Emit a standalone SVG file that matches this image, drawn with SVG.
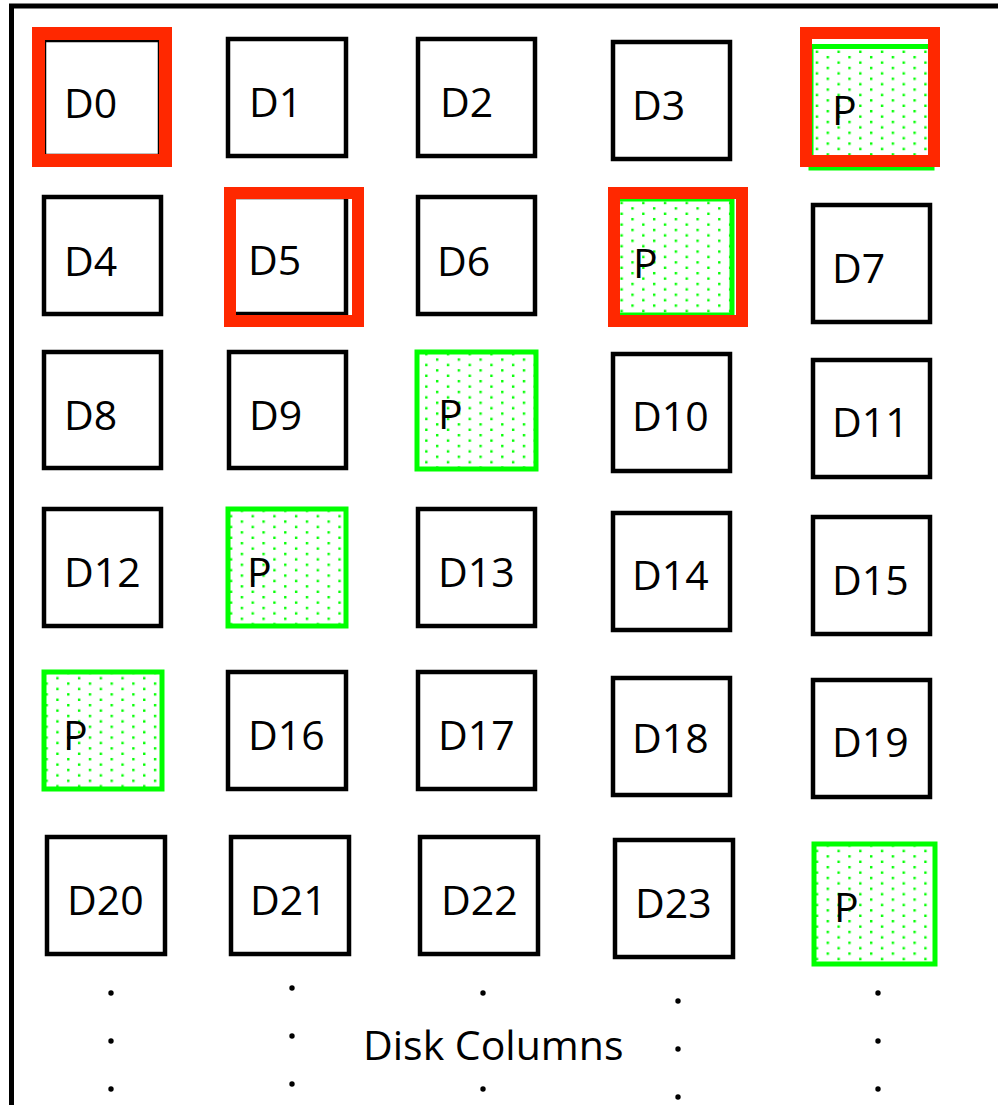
<svg xmlns="http://www.w3.org/2000/svg" width="998" height="1105" viewBox="0 0 998 1105">
<style>
.box{fill:#fff;stroke:#000;stroke-width:4.5}
.par{fill:url(#dots);stroke:#00ff00;stroke-width:5}
.hl{fill:none;stroke:#ff2800;stroke-width:12}
.lbl{font-family:"Open Sans","Liberation Sans",sans-serif;font-size:41px;fill:#000}
.dot{fill:#000}
</style>
<defs>
<pattern id="dots" patternUnits="userSpaceOnUse" width="21.7" height="10.8">
<rect width="21.7" height="10.8" fill="#fff"/>
<rect x="2" y="2" width="2.4" height="2.4" fill="#00ff00"/>
<rect x="12.85" y="7.4" width="2.4" height="2.4" fill="#00ff00"/>
</pattern>
</defs>
<rect width="998" height="1105" fill="#fff"/>
<g id="frame">
<line x1="9" y1="6" x2="998" y2="6" stroke="#000" stroke-width="5"/>
<line x1="11.5" y1="4" x2="11.5" y2="1105" stroke="#000" stroke-width="5"/>
</g>
<g id="connectors"></g>
<!-- Row 1 -->
<g id="D0"><rect class="box" x="44" y="40" width="116" height="116"/><rect class="hl" x="38.5" y="33.5" width="127" height="127" style="stroke-width:13"/><text class="lbl" x="64" y="118">D0</text></g>
<g id="D1"><rect class="box" x="228" y="39" width="118" height="117"/><text class="lbl" x="249" y="117">D1</text></g>
<g id="D2"><rect class="box" x="418" y="39" width="117" height="117"/><text class="lbl" x="440" y="117">D2</text></g>
<g id="D3"><rect class="box" x="613" y="42" width="117" height="117"/><text class="lbl" x="632" y="120">D3</text></g>
<g id="P0"><rect class="par" x="811" y="46.5" width="121" height="121.5"/><rect class="hl" x="806" y="33" width="128" height="128"/><text class="lbl" x="832" y="125">P</text></g>
<!-- Row 2 -->
<g id="D4"><rect class="box" x="44" y="197" width="117" height="117"/><text class="lbl" x="64" y="276">D4</text></g>
<g id="D5"><rect class="box" x="228" y="197" width="118" height="117"/><rect class="hl" x="230" y="193" width="128" height="128"/><text class="lbl" x="248" y="275">D5</text></g>
<g id="D6"><rect class="box" x="418" y="197" width="117" height="117"/><text class="lbl" x="437" y="276">D6</text></g>
<g id="P1"><rect class="par" x="616" y="199" width="116" height="116"/><rect class="hl" x="614" y="193" width="128" height="128"/><text class="lbl" x="633" y="278">P</text></g>
<g id="D7"><rect class="box" x="813" y="205" width="117" height="117"/><text class="lbl" x="832" y="283">D7</text></g>
<!-- Row 3 -->
<g id="D8"><rect class="box" x="44" y="352" width="117" height="116"/><text class="lbl" x="64" y="430">D8</text></g>
<g id="D9"><rect class="box" x="229" y="352" width="117" height="116"/><text class="lbl" x="249" y="430">D9</text></g>
<g id="P2"><rect class="par" x="417" y="352" width="119" height="117"/><text class="lbl" x="438" y="429">P</text></g>
<g id="D10"><rect class="box" x="613" y="354" width="117" height="117"/><text class="lbl" x="632" y="431">D10</text></g>
<g id="D11"><rect class="box" x="813" y="360" width="117" height="117"/><text class="lbl" x="832" y="437">D11</text></g>
<!-- Row 4 -->
<g id="D12"><rect class="box" x="44" y="509" width="117" height="117"/><text class="lbl" x="64" y="587">D12</text></g>
<g id="P3"><rect class="par" x="228" y="509" width="118" height="117"/><text class="lbl" x="247" y="587">P</text></g>
<g id="D13"><rect class="box" x="418" y="509" width="117" height="117"/><text class="lbl" x="438" y="587">D13</text></g>
<g id="D14"><rect class="box" x="613" y="513" width="117" height="117"/><text class="lbl" x="632" y="590">D14</text></g>
<g id="D15"><rect class="box" x="813" y="517" width="117" height="117"/><text class="lbl" x="832" y="595">D15</text></g>
<!-- Row 5 -->
<g id="P4"><rect class="par" x="44" y="672" width="118" height="117"/><text class="lbl" x="63" y="750">P</text></g>
<g id="D16"><rect class="box" x="228" y="672" width="118" height="117"/><text class="lbl" x="248" y="750">D16</text></g>
<g id="D17"><rect class="box" x="418" y="672" width="117" height="117"/><text class="lbl" x="438" y="750">D17</text></g>
<g id="D18"><rect class="box" x="613" y="678" width="117" height="117"/><text class="lbl" x="632" y="753">D18</text></g>
<g id="D19"><rect class="box" x="813" y="680" width="117" height="117"/><text class="lbl" x="832" y="757">D19</text></g>
<!-- Row 6 -->
<g id="D20"><rect class="box" x="47" y="837" width="118" height="117"/><text class="lbl" x="67" y="915">D20</text></g>
<g id="D21"><rect class="box" x="231" y="837" width="118" height="117"/><text class="lbl" x="250" y="915">D21</text></g>
<g id="D22"><rect class="box" x="420" y="837" width="118" height="117"/><text class="lbl" x="441" y="915">D22</text></g>
<g id="D23"><rect class="box" x="615" y="840" width="118" height="117"/><text class="lbl" x="635" y="918">D23</text></g>
<g id="P5"><rect class="par" x="814" y="844" width="121" height="120"/><text class="lbl" x="834" y="922">P</text></g>
<!-- continuation dots -->
<g id="ellipsis">
<circle class="dot" cx="111" cy="993" r="2.7"/><circle class="dot" cx="111" cy="1041" r="2.7"/><circle class="dot" cx="111" cy="1089" r="2.7"/>
<circle class="dot" cx="292" cy="988" r="2.7"/><circle class="dot" cx="292" cy="1036" r="2.7"/><circle class="dot" cx="292" cy="1084" r="2.7"/>
<circle class="dot" cx="483" cy="993" r="2.7"/><circle class="dot" cx="483" cy="1089" r="2.7"/>
<circle class="dot" cx="678" cy="1001" r="2.7"/><circle class="dot" cx="678" cy="1049" r="2.7"/><circle class="dot" cx="678" cy="1097" r="2.7"/>
<circle class="dot" cx="878" cy="993" r="2.7"/><circle class="dot" cx="878" cy="1041" r="2.7"/><circle class="dot" cx="878" cy="1089" r="2.7"/>
</g>
<g id="caption"><text class="lbl" x="363" y="1060">Disk Columns</text></g>
</svg>
